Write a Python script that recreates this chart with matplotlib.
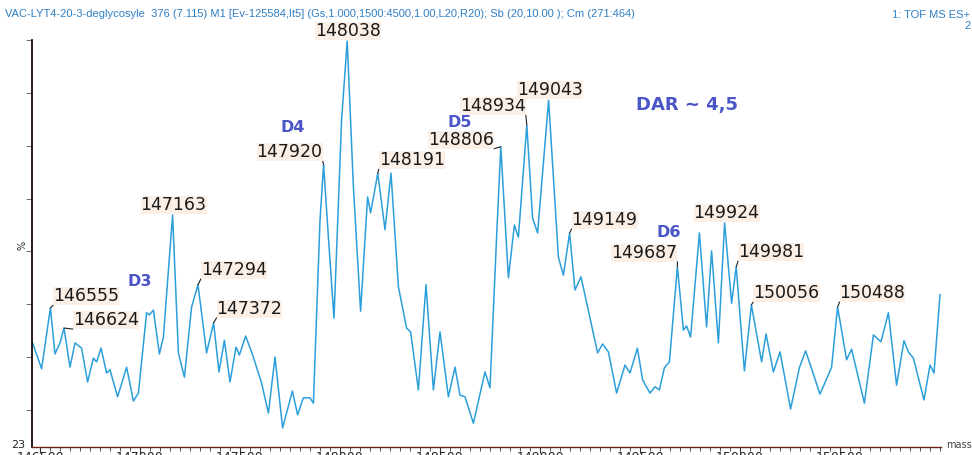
import numpy as np
import matplotlib
matplotlib.use("Agg")
import matplotlib.pyplot as plt
from matplotlib.ticker import MultipleLocator, NullFormatter

# deconvoluted spectrum (mass in Da, intensity in %)
mass = [
    146458, 146475, 146508, 146552, 146575, 146600, 146620, 146650, 146675, 146708,
    146738, 146767, 146783, 146805, 146833, 146850, 146888, 146933, 146967, 146992,
    147033, 147047, 147067, 147097, 147117, 147163, 147192, 147222, 147258, 147290,
    147333, 147368, 147395, 147422, 147450, 147480, 147497, 147528, 147558, 147608,
    147642, 147675, 147713, 147762, 147788, 147817, 147850, 147867,
    147900, 147918, 147942, 147970, 148008, 148036, 148067, 148103, 148138, 148153,
    148189, 148225, 148255, 148292, 148333, 148353, 148392, 148430, 148467, 148500,
    148542, 148575, 148600, 148625, 148667, 148725, 148750, 148783, 148804, 148842,
    148872, 148892, 148934, 148963, 148988, 149043, 149092, 149117, 149148, 149175,
    149205, 149288, 149313, 149342,
    149383, 149425, 149450, 149487, 149513, 149550, 149575, 149597, 149622, 149647,
    149687, 149717, 149733, 149753, 149797, 149833, 149858, 149892, 149923, 149958,
    149981, 150022, 150057, 150108, 150130, 150167, 150200, 150253, 150297, 150328,
    150400, 150458, 150488, 150533, 150558, 150622, 150667, 150705, 150742, 150783,
    150820, 150842, 150867, 150920, 150950, 150970, 151000,
]
intensity = [
    43.2, 41.4, 37.8, 49.3, 40.6, 42.7, 45.5, 38.1, 42.7, 41.7,
    35.3, 39.8, 39.1, 41.7, 37.0, 37.6, 32.5, 38.1, 31.7, 33.2,
    48.4, 48.0, 48.9, 40.6, 43.8, 66.9, 40.8, 36.2, 49.5, 53.7,
    40.8, 46.5, 37.2, 43.2, 35.3, 41.9, 40.4, 44.0, 41.0, 35.1,
    29.4, 40.0, 26.6, 33.6, 29.1, 32.3, 32.3, 31.3,
    65.9, 76.4, 62.7, 47.4, 84.9, 99.8, 72.2, 48.7, 70.3, 67.3,
    74.8, 64.1, 74.8, 53.3, 45.5, 44.8, 33.8, 53.7, 33.8, 44.8,
    32.5, 38.1, 32.8, 32.5, 27.5, 37.2, 34.2, 62.7, 79.8, 55.0,
    65.0, 62.7, 83.9, 66.3, 63.5, 88.6, 58.9, 55.5, 63.5, 52.7,
    55.2, 40.8, 42.5, 41.0,
    33.2, 38.5, 37.0, 41.7, 35.7, 33.2, 34.4, 33.8, 38.0, 39.1,
    57.1, 45.1, 45.9, 43.8, 63.5, 45.7, 60.1, 42.7, 65.4, 50.2,
    57.1, 37.4, 49.9, 39.1, 44.4, 37.2, 41.0, 30.2, 38.0, 41.2,
    33.0, 38.1, 49.5, 39.5, 41.5, 31.3, 44.2, 42.9, 48.4, 34.7,
    43.1, 41.0, 39.8, 31.9, 38.5, 37.0, 51.8,
]

# labelled peaks
peak_labels = ["146555", "146624", "147163", "147294", "147372", "147920", "148038",
               "148191", "148806", "148934", "149043", "149149", "149687", "149924",
               "149981", "150056", "150488"]
peak_mass = [146552, 146620, 147163, 147290, 147368, 147918, 148036,
             148189, 148804, 148934, 149043, 149148, 149687, 149923,
             149981, 150057, 150488]

species = ["D3", "D4", "D5", "D6"]
species_mass = [147000, 147765, 148600, 149645]
species_int = [54.4, 83.5, 84.3, 63.5]

mass_ticks = [146500, 147000, 147500, 148000, 148500, 149000, 149500, 150000, 150500]

header = ("VAC-LYT4-20-3-deglycosyle  376 (7.115) M1 [Ev-125584,It5] "
          "(Gs,1.000,1500:4500,1.00,L20,R20); Sb (20,10.00 ); Cm (271:464)")

blue = "#2b9fda"
axcol = "#1a0804"

fig = plt.figure(figsize=(9.72, 4.55), dpi=100)
ax = fig.add_axes([32 / 972, 8 / 455, 909 / 972, 407 / 455])
ax.plot(mass, intensity, color=blue, lw=1.1, solid_joinstyle="round")

ax.set_xlim(146460, 151005)
ax.set_ylim(23, 100)
for s in ("top", "right"):
    ax.spines[s].set_visible(False)
ax.spines["left"].set_color(axcol)
ax.spines["bottom"].set_color("#6e2414")
ax.spines["left"].set_linewidth(1.3)
ax.spines["bottom"].set_linewidth(1.0)

ax.set_xticks(mass_ticks)
ax.set_xticklabels([str(t) for t in mass_ticks])
ax.xaxis.set_minor_locator(MultipleLocator(50))
ax.yaxis.set_major_locator(MultipleLocator(10))
ax.yaxis.set_major_formatter(NullFormatter())
ax.tick_params(axis="x", which="major", length=4, width=0.8, color="#333333",
               labelsize=9, pad=-1, labelcolor="#222222")
ax.tick_params(axis="x", which="minor", length=3, width=0.6, color="#333333")
ax.tick_params(axis="y", length=4, width=0.6, color="#555555")

# peak annotations: (dx, dy) offsets in pixels from the peak top, alignment, leader corner
offsets = {
    "146555": (3, 12, "left", (0, 0)),
    "146624": (9, 8, "left", (0, 0)),
    "147163": (1, 10, "center", None),
    "147294": (3, 15, "left", (0, 0)),
    "147372": (3, 14, "left", (0, 0)),
    "147920": (-1, 13, "right", (1, 0)),
    "148038": (1, 10, "center", None),
    "148191": (1, 13, "left", (0, 0)),
    "148806": (-7, 7, "right", (1, 0)),
    "148934": (-1, 19, "right", (1, 0)),
    "149043": (1, 10, "center", None),
    "149149": (2, 13, "left", (0, 0)),
    "149687": (0, 14, "right", (1, 0)),
    "149924": (2, 10, "center", None),
    "149981": (2, 15, "left", (0, 0)),
    "150056": (2, 12, "left", (0, 0)),
    "150488": (2, 14, "left", (0, 0)),
}
for lab, m in zip(peak_labels, peak_mass):
    dx, dy, ha, rel = offsets[lab]
    y = np.interp(m, mass, intensity)
    arrow = None
    if rel is not None:
        arrow = dict(arrowstyle="-", color="#222222", lw=0.8, relpos=rel,
                     shrinkA=0, shrinkB=0)
    ax.annotate(lab, xy=(m, y), xytext=(dx, dy), textcoords="offset pixels",
                ha=ha, va="center", fontsize=12.5, color="#1a1a1a",
                family="DejaVu Sans", annotation_clip=False,
                bbox=dict(boxstyle="square,pad=0.0", fc="#fbefe6", ec="none"),
                arrowprops=arrow)

for s, m, y in zip(species, species_mass, species_int):
    ax.text(m, y, s, ha="center", va="center", fontsize=11.5, fontweight="bold",
            color="#4a55c8", clip_on=False)
ax.text(149735, 87.7, "DAR ~ 4,5", ha="center", va="center", fontsize=13,
        fontweight="bold", color="#4a55c8")

fig.text(5 / 972, 1 - 14 / 455, header, fontsize=8, color="#2f7fc4",
         family="Liberation Sans", va="center", ha="left")
fig.text(970 / 972, 1 - 15 / 455, "1: TOF MS ES+", fontsize=8, color="#2f7fc4",
         family="Liberation Sans", va="center", ha="right")
fig.text(971 / 972, 1 - 26 / 455, "2", fontsize=8, color="#2f7fc4",
         family="Liberation Sans", va="center", ha="right")
fig.text(18 / 972, 1 - 445 / 455, "23", fontsize=8, color="#222222",
         ha="center", va="center")
fig.text(22 / 972, 1 - 245 / 455, "%", fontsize=7, color="#222222",
         ha="center", va="center", rotation=90)
fig.text(946 / 972, 1 - 445 / 455, "mass", fontsize=7, color="#444444",
         ha="left", va="center")

fig.savefig("out.png", dpi=100, facecolor="white")
